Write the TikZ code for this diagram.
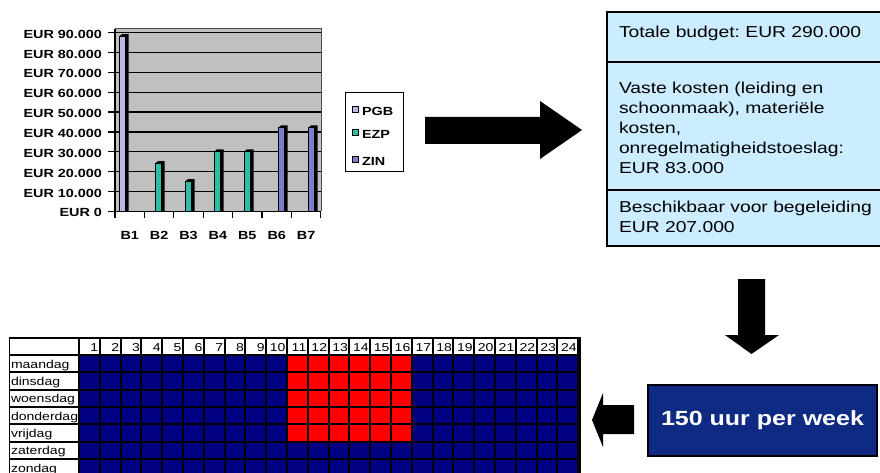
\documentclass[tikz,border=0pt]{standalone}
\usepackage{fontspec}
\setmainfont{Liberation Sans}[FakeStretch=1.22]
\definecolor{chartgray}{RGB}{192,192,192}
\definecolor{pgb}{RGB}{184,184,224}
\definecolor{ezp}{RGB}{46,190,165}
\definecolor{zin}{RGB}{122,128,200}
\definecolor{boxblue}{RGB}{204,236,255}
\definecolor{darkblue}{RGB}{15,42,130}
\definecolor{navycell}{RGB}{0,0,128}
\definecolor{redcell}{RGB}{255,0,0}
\frenchspacing
\begin{document}
\begin{tikzpicture}[x=1pt,y=-1pt,every node/.style={inner sep=0pt,outer sep=0pt},
  chartlbl/.style={font=\fontsize{11.8}{13}\selectfont\bfseries},
  boxtxt/.style={font=\fontsize{15.8}{19}\selectfont,anchor=base west},
  celltxt/.style={font=\fontsize{11.5}{13}\selectfont},
  bigarrow/.style={fill=black}]
\useasboundingbox (0,0) rectangle (880,473);
% ---------------- chart ----------------
\fill[chartgray] (115,29) rectangle (321,211.3);
\draw[gray!60!black,line width=1] (115,29) -- (321,29) -- (321,211.3);
\foreach \v in {10,20,...,90}{
  \draw[line width=1.3] (115,{211.3-1.984*\v}) -- (321,{211.3-1.984*\v});
}
\draw[line width=1.3] (115,29) -- (115,211.3) -- (321,211.3);
\foreach \v in {0,10,...,90}{
  \draw[line width=1.2] (108,{211.3-1.984*\v}) -- (115,{211.3-1.984*\v});
  \ifnum\v=0
    \node[chartlbl,anchor=east] (yl\v) at (102,{211.3-1.984*\v+1.5}) {EUR 0};
  \else
    \node[chartlbl,anchor=east] (yl\v) at (102,{211.3-1.984*\v+1.5}) {EUR \v.000};
  \fi
}
\foreach \k in {0,...,7}{
  \draw[line width=1.2] ({115+29.4*\k},211.3) -- ({115+29.4*\k},218);
}
\foreach \k/\t in {0/B1,1/B2,2/B3,3/B4,4/B5,5/B6,6/B7}{
  \node[chartlbl] (xl\k) at ({129.7+29.4*\k},235) {\t};
}
\foreach \x/\v/\c in {119/88/pgb,155/24/ezp,185/15/ezp,214/30/ezp,244/30/ezp,278/42/zin,308/42/zin}{
  \pgfmathsetmacro{\yt}{211.3-1.984*\v}
  \fill[black] (\x+6.5,\yt) -- (\x+9.5,\yt-2.5) -- (\x+9.5,211.3) -- (\x+6.5,211.3) -- cycle;
  \fill[black] (\x,\yt) -- (\x+3,\yt-2.5) -- (\x+9.5,\yt-2.5) -- (\x+6.5,\yt) -- cycle;
  \filldraw[fill=\c,draw=black,line width=1] (\x,211.3) rectangle (\x+6.5,\yt);
}
% legend
\draw[line width=1] (345,93) rectangle (403,172);
\foreach \y/\c/\t in {110/pgb/PGB,133/ezp/EZP,160/zin/ZIN}{
  \filldraw[fill=\c,draw=black,line width=1] (352,\y-3) rectangle (358,\y+3);
  \node[chartlbl,anchor=west] (lg\t) at (362,\y+1) {\t};
}
% ---------------- big arrow right ----------------
\fill[bigarrow] (425,117) -- (540,117) -- (540,101) -- (582,130) -- (540,159) -- (540,144) -- (425,144) -- cycle;
% ---------------- budget box ----------------
\filldraw[fill=boxblue,draw=black,line width=2] (607,12) rectangle (882,246);
\draw[line width=1.5] (607,62) -- (882,62);
\draw[line width=1.5] (607,190) -- (882,190);
\node[boxtxt] (b1) at (619,37.5) {Totale budget: EUR 290.000};
\node[boxtxt] (b2) at (619,93.5) {Vaste kosten (leiding en};
\node[boxtxt] (b3) at (619,113.5) {schoonmaak), materiële};
\node[boxtxt] (b4) at (619,133.5) {kosten,};
\node[boxtxt] (b5) at (619,153.5) {onregelmatigheidstoeslag:};
\node[boxtxt] (b6) at (619,174) {EUR 83.000};
\node[boxtxt] (b7) at (619,212) {Beschikbaar voor begeleiding};
\node[boxtxt] (b8) at (619,232) {EUR 207.000};
% ---------------- down arrow ----------------
\fill[bigarrow] (738,279) -- (765,279) -- (765,335) -- (779,335) -- (751.5,354) -- (725,335) -- (738,335) -- cycle;
% ---------------- blue box ----------------
\node[draw=black,line width=2.5,fill=darkblue,minimum width=229pt,minimum height=71pt,
  text=white,font=\fontsize{20.5}{24}\selectfont\bfseries] (hours) at (762.5,420.5) {150 uur per week};
% ---------------- left arrow ----------------
\fill[bigarrow] (634,405) -- (603,405) -- (603,393) -- (592,420) -- (603,447) -- (603,434) -- (634,434) -- cycle;
% ---------------- table ----------------
\fill[black] (9,337) rectangle (581,480);
\fill[white] (10,338.5) rectangle (78,354);
\foreach \j in {1,...,24}{
  \pgfmathsetmacro{\xa}{79+20.8*(\j-1)+1}
  \pgfmathsetmacro{\xb}{79+20.8*\j-1}
  \fill[white] (\xa,338.5) rectangle (\xb,354);
  \node[celltxt,anchor=base east] (h\j) at (\xb-0.5,351.5) {\j};
}
\foreach \i/\d in {1/maandag,2/dinsdag,3/woensdag,4/donderdag,5/vrijdag,6/zaterdag,7/zondag}{
  \pgfmathsetmacro{\ya}{355+17.3*(\i-1)+1}
  \pgfmathsetmacro{\yb}{355+17.3*\i-1}
  \fill[white] (10,\ya) rectangle (78,\yb);
  \node[celltxt,anchor=base west] (d\i) at (11,\yb-3) {\d};
  \foreach \j in {1,...,24}{
    \pgfmathsetmacro{\xa}{79+20.8*(\j-1)+1}
    \pgfmathsetmacro{\xb}{79+20.8*\j-1}
    \fill[navycell] (\xa,\ya) rectangle (\xb,\yb);
  }
}
\foreach \i in {1,...,5}{
  \foreach \j in {11,...,16}{
    \pgfmathsetmacro{\ya}{355+17.3*(\i-1)+1}
    \pgfmathsetmacro{\yb}{355+17.3*\i-1}
    \pgfmathsetmacro{\xa}{79+20.8*(\j-1)+1}
    \pgfmathsetmacro{\xb}{79+20.8*\j-1}
    \fill[redcell] (\xa,\ya) rectangle (\xb,\yb);
  }
}
\end{tikzpicture}
\end{document}
